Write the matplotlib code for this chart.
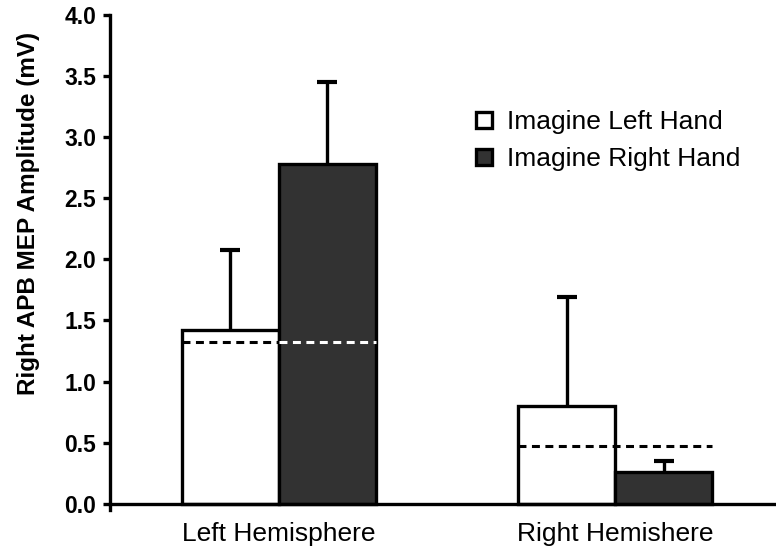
import matplotlib
matplotlib.use('Agg')
import matplotlib.pyplot as plt
from matplotlib.lines import Line2D

plt.rcParams['font.family'] = ['Liberation Sans', 'DejaVu Sans']

groups = ['Left Hemisphere', 'Right Hemishere']
series = ['Imagine Left Hand', 'Imagine Right Hand']
means_left_hand = [1.42, 0.80]
means_right_hand = [2.78, 0.26]
err_left_hand = [0.66, 0.89]
err_right_hand = [0.67, 0.09]
baseline = [1.32, 0.47]
y_ticks = [0.0, 0.5, 1.0, 1.5, 2.0, 2.5, 3.0, 3.5, 4.0]

dark = '#323232'
centers = [0.0, 3.47]
width = 1.0

fig = plt.figure(figsize=(7.76, 5.59), dpi=100)
ax = fig.add_axes([0.142, 0.088, 0.858, 0.885])

x_white = [c for c in centers]
x_dark = [c + width for c in centers]
ax.bar(x_white, means_left_hand, width, color='white', edgecolor='black',
       linewidth=2.4, zorder=2)
ax.bar(x_dark, means_right_hand, width, color=dark, edgecolor='black',
       linewidth=2.4, zorder=2)

# upper-only error bars: a stem from the bar top and a single cap
for xs, means, errs in ((x_white, means_left_hand, err_left_hand),
                        (x_dark, means_right_hand, err_right_hand)):
    tops = [m + e for m, e in zip(means, errs)]
    ax.vlines(xs, means, tops, colors='black', linewidth=2.4, zorder=1)
    ax.plot(xs, tops, linestyle='none', marker='_', markersize=15,
            markeredgewidth=3.0, color='black', zorder=1)

# dashed baseline per hemisphere: black over white, white over dark bars
dash = (0, (2.6, 1.8))
for i, c in enumerate(centers):
    y = baseline[i]
    left = c - width / 2
    if y < means_right_hand[i]:
        ax.plot([left, c + width / 2], [y, y], color='black', lw=2.2,
                linestyle=dash, zorder=3)
        ax.plot([c + width / 2, c + 1.5 * width], [y, y], color='white',
                lw=2.2, linestyle=dash, zorder=3)
    else:
        ax.plot([left, c + 1.5 * width], [y, y], color='black', lw=2.2,
                linestyle=dash, zorder=3)

ax.set_xlim(-1.24, 5.63)
ax.set_ylim(-0.05, 4.0)
ax.spines['bottom'].set_position(('data', 0))
ax.spines['top'].set_visible(False)
ax.spines['right'].set_visible(False)
for s in ('left', 'bottom'):
    ax.spines[s].set_linewidth(2.4)

ax.set_yticks(y_ticks)
ax.set_yticklabels(['{:.1f}'.format(v) for v in y_ticks],
                   fontsize=16.5, fontweight='bold')
ax.tick_params(axis='y', direction='out', length=5, width=2.4, pad=5)
ax.set_xticks([c + width / 2 for c in centers])
ax.set_xticklabels(groups, fontsize=19)
ax.tick_params(axis='x', length=0, pad=13)

ax.set_ylabel('Right APB MEP Amplitude (mV)', fontsize=17.5,
              fontweight='bold')
ax.yaxis.set_label_coords(-0.105, 0.6)

handles = [
    Line2D([], [], marker='s', linestyle='none', markersize=12,
           markerfacecolor='white', markeredgecolor='black',
           markeredgewidth=2.4),
    Line2D([], [], marker='s', linestyle='none', markersize=12,
           markerfacecolor=dark, markeredgecolor='black',
           markeredgewidth=2.4),
]
ax.legend(handles, series, loc='upper left', bbox_to_anchor=(0.53, 0.83),
          frameon=False, fontsize=19, handlelength=0.8, handletextpad=0.45,
          labelspacing=0.5, borderaxespad=0)

fig.savefig('out.png', dpi=100)
